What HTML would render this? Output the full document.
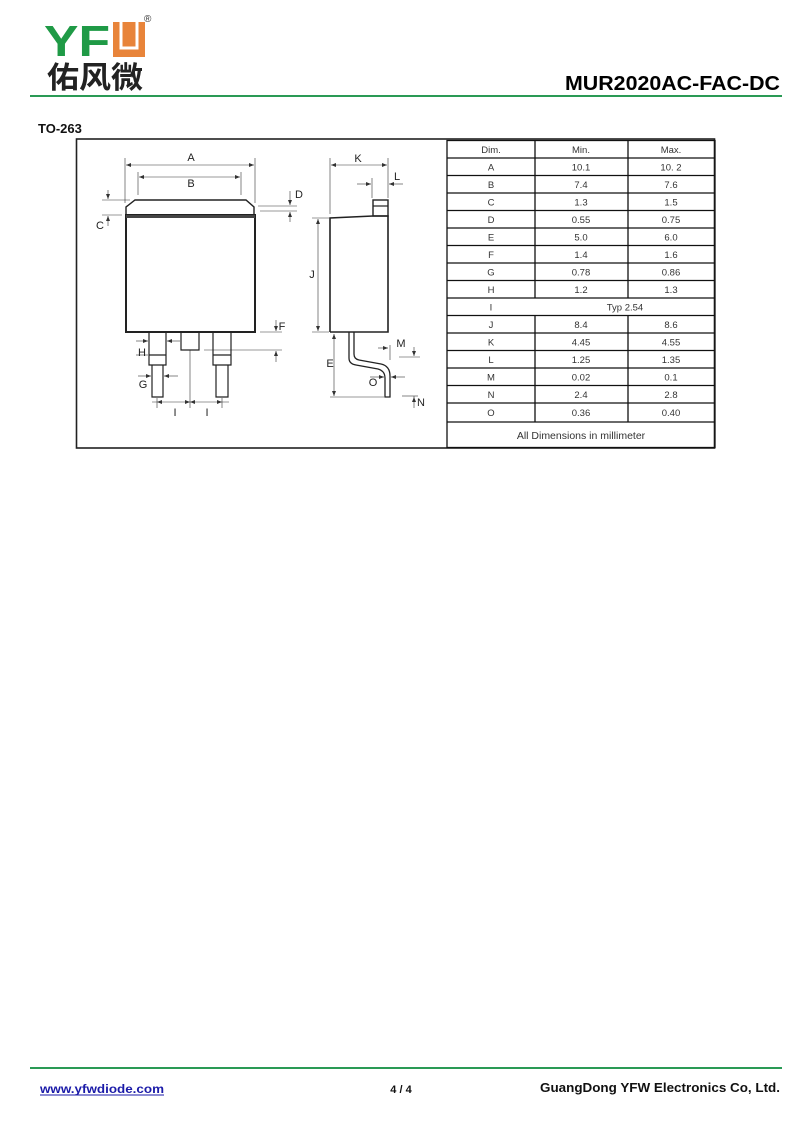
<!DOCTYPE html>
<html><head><meta charset="utf-8"><style>
html,body{margin:0;padding:0;background:#fff;}
body{width:800px;height:1130px;position:relative;overflow:hidden;}
svg{position:absolute;left:0;top:0;}
</style></head><body>
<svg width="800" height="1130" viewBox="0 0 800 1130" xmlns="http://www.w3.org/2000/svg" font-family="Liberation Sans, Arial, sans-serif">
<!-- logo -->
<text x="44" y="56" font-size="44" font-weight="bold" fill="#1f9a46" textLength="66" lengthAdjust="spacingAndGlyphs">YF</text>
<rect x="113" y="22" width="32" height="35" fill="#e8843a"/>
<path d="M121 20 V48 H137 V20" stroke="#fff" stroke-width="3" fill="none"/>
<text x="144" y="22" font-size="10" fill="#333">®</text>
<text x="47" y="88" font-size="30" font-weight="bold" fill="#222" font-family="Noto Sans CJK SC, WenQuanYi Zen Hei, sans-serif" textLength="96" lengthAdjust="spacingAndGlyphs">佑风微</text>
<text x="780" y="90" font-size="20" font-weight="bold" fill="#000" text-anchor="end" textLength="215" lengthAdjust="spacingAndGlyphs">MUR2020AC-FAC-DC</text>
<rect x="30" y="95" width="752" height="2" fill="#2a9a55"/>
<text x="38" y="133" font-size="13" font-weight="bold" fill="#111">TO-263</text>

<!-- outer box -->
<rect x="76.5" y="139" width="638" height="309" fill="none" stroke="#222" stroke-width="1.6"/>

<g stroke="#333" fill="none" stroke-width="0.6">
<line x1="125" y1="158" x2="125" y2="203"/><line x1="255" y1="158" x2="255" y2="203"/>
<line x1="138" y1="172" x2="138" y2="195"/><line x1="241" y1="172" x2="241" y2="195"/>
<line x1="126" y1="165" x2="254" y2="165"/><line x1="139" y1="177" x2="240" y2="177"/>
<line x1="102" y1="200" x2="130" y2="200"/><line x1="102" y1="215" x2="122" y2="215"/>
<line x1="108" y1="190" x2="108" y2="199"/><line x1="108" y1="216" x2="108" y2="226"/>
<line x1="258" y1="206" x2="297" y2="206"/><line x1="260" y1="211" x2="297" y2="211"/>
<line x1="290" y1="191" x2="290" y2="205"/><line x1="290" y1="212" x2="290" y2="222"/>
<line x1="260" y1="332" x2="282" y2="332"/><line x1="204" y1="350" x2="282" y2="350"/>
<line x1="276" y1="320" x2="276" y2="331"/><line x1="276" y1="351" x2="276" y2="362"/>
<line x1="136" y1="341" x2="148" y2="341"/><line x1="167" y1="341" x2="180" y2="341"/>
<line x1="136" y1="355" x2="148" y2="355"/>
<line x1="138" y1="376" x2="151" y2="376"/><line x1="164" y1="376" x2="178" y2="376"/>
<line x1="190" y1="350" x2="190" y2="408"/>
<line x1="152" y1="402" x2="229" y2="402"/>
<line x1="157" y1="398" x2="157" y2="408"/><line x1="222" y1="398" x2="222" y2="408"/>
<line x1="330" y1="158" x2="330" y2="214"/><line x1="388" y1="158" x2="388" y2="198"/>
<line x1="331" y1="165" x2="387" y2="165"/>
<line x1="357" y1="184" x2="371" y2="184"/><line x1="389" y1="184" x2="403" y2="184"/>
<line x1="372" y1="178" x2="372" y2="198"/>
<line x1="312" y1="218" x2="329" y2="218"/><line x1="312" y1="332" x2="329" y2="332"/>
<line x1="318" y1="219" x2="318" y2="331"/>
<line x1="334" y1="334" x2="334" y2="396"/><line x1="330" y1="397" x2="384" y2="397"/>
<line x1="378" y1="348" x2="388" y2="348"/><line x1="390" y1="345" x2="390" y2="360"/>
<line x1="399" y1="357" x2="420" y2="357"/><line x1="414" y1="347" x2="414" y2="356"/>
<line x1="370" y1="377" x2="384" y2="377"/><line x1="391" y1="377" x2="405" y2="377"/>
<line x1="402" y1="396" x2="418" y2="396"/>
<line x1="414" y1="396" x2="414" y2="408"/>
</g>
<g fill="#333">
<path d="M126 165 l5 -2 v4z M254 165 l-5 -2 v4z M139 177 l5 -2 v4z M240 177 l-5 -2 v4z"/>
<path d="M331 165 l5 -2 v4z M387 165 l-5 -2 v4z M371 184 l-5 -2 v4z M389 184 l5 -2 v4z"/>
<path d="M318 219 l-2 5 h4z M318 331 l-2 -5 h4z M334 334 l-2 5 h4z M334 396 l-2 -5 h4z"/>
<path d="M108 199 l-2 -5 h4z M108 216 l-2 5 h4z M290 205 l-2 -5 h4z M290 212 l-2 5 h4z"/>
<path d="M276 331 l-2 -5 h4z M276 351 l-2 5 h4z M148 341 l-5 -2 v4z M167 341 l5 -2 v4z"/>
<path d="M151 376 l-5 -2 v4z M164 376 l5 -2 v4z M157 402 l5 -2 v4z M222 402 l-5 -2 v4z M190 402 l-5 -2 v4z M190 402 l5 -2 v4z"/>
<path d="M388 348 l-5 -2 v4z M384 377 l-5 -2 v4z M391 377 l5 -2 v4z M414 356 l-2 -5 h4z M414 397 l-2 5 h4z"/>
</g>
<g stroke="#222" fill="none">
<path d="M126 215 V207 L135 200 H246 L254 207 V215" stroke-width="1.4"/>
<rect x="126" y="215" width="129" height="117" stroke-width="2"/>
<line x1="126" y1="216.5" x2="255" y2="216.5" stroke-width="3" stroke="#444"/>
<path d="M149 332 V365 H166 V332 M149 355 H166 M152 365 V397 H163 V365" stroke-width="1.2"/>
<path d="M213 332 V365 H231 V332 M213 355 H231 M216 365 V397 H228 V365" stroke-width="1.2"/>
<path d="M181 332 V350 H199 V332" stroke-width="1.2"/>
<path d="M330 332 V218 L373 216 M373 216 H388 V332 H330" stroke-width="1.6"/>
<rect x="373" y="200" width="15" height="16" stroke-width="1.4"/>
<line x1="373" y1="206" x2="388" y2="206" stroke-width="1.2"/>
<path d="M349 332 V358 Q349 364 356 365 L378 369 Q385 371 385 378 V397 H390 V376 Q390 366 381 364 L359 360 Q354 359 354 354 V332" stroke-width="1.3"/>
</g>
<g font-size="11" fill="#222" text-anchor="middle">
<text x="191" y="161">A</text><text x="191" y="187">B</text>
<text x="100" y="229">C</text><text x="299" y="198">D</text>
<text x="282" y="330">F</text><text x="142" y="356">H</text><text x="143" y="388">G</text>
<text x="175" y="416">I</text><text x="207" y="416">I</text>
<text x="358" y="162">K</text><text x="397" y="180">L</text>
<text x="312" y="278">J</text><text x="330" y="367">E</text>
<text x="401" y="347">M</text><text x="373" y="386">O</text><text x="421" y="406">N</text>
</g>

<g stroke="#111" stroke-width="1.3" fill="none">
<rect x="447" y="140.5" width="268" height="307"/>
<line x1="535" y1="140.5" x2="535" y2="298"/><line x1="535" y1="315.5" x2="535" y2="422"/>
<line x1="628" y1="140.5" x2="628" y2="298"/><line x1="628" y1="315.5" x2="628" y2="422"/>
<line x1="447" y1="158" x2="715" y2="158"/><line x1="447" y1="175.5" x2="715" y2="175.5"/>
<line x1="447" y1="193" x2="715" y2="193"/><line x1="447" y1="210.5" x2="715" y2="210.5"/>
<line x1="447" y1="228" x2="715" y2="228"/><line x1="447" y1="245.5" x2="715" y2="245.5"/>
<line x1="447" y1="263" x2="715" y2="263"/><line x1="447" y1="280.5" x2="715" y2="280.5"/>
<line x1="447" y1="298" x2="715" y2="298"/><line x1="447" y1="315.5" x2="715" y2="315.5"/>
<line x1="447" y1="333" x2="715" y2="333"/><line x1="447" y1="350.5" x2="715" y2="350.5"/>
<line x1="447" y1="368" x2="715" y2="368"/><line x1="447" y1="385.5" x2="715" y2="385.5"/>
<line x1="447" y1="403" x2="715" y2="403"/><line x1="447" y1="422" x2="715" y2="422"/>
</g>
<g font-size="9.5" fill="#333" text-anchor="middle">
<text x="491" y="153">Dim.</text><text x="581" y="153">Min.</text><text x="671" y="153">Max.</text>
<text x="491" y="170.5">A</text><text x="581" y="170.5">10.1</text><text x="671" y="170.5">10. 2</text>
<text x="491" y="188">B</text><text x="581" y="188">7.4</text><text x="671" y="188">7.6</text>
<text x="491" y="205.5">C</text><text x="581" y="205.5">1.3</text><text x="671" y="205.5">1.5</text>
<text x="491" y="223">D</text><text x="581" y="223">0.55</text><text x="671" y="223">0.75</text>
<text x="491" y="240.5">E</text><text x="581" y="240.5">5.0</text><text x="671" y="240.5">6.0</text>
<text x="491" y="258">F</text><text x="581" y="258">1.4</text><text x="671" y="258">1.6</text>
<text x="491" y="275.5">G</text><text x="581" y="275.5">0.78</text><text x="671" y="275.5">0.86</text>
<text x="491" y="293">H</text><text x="581" y="293">1.2</text><text x="671" y="293">1.3</text>
<text x="491" y="310.5">I</text><text x="625" y="310.5">Typ 2.54</text>
<text x="491" y="328">J</text><text x="581" y="328">8.4</text><text x="671" y="328">8.6</text>
<text x="491" y="345.5">K</text><text x="581" y="345.5">4.45</text><text x="671" y="345.5">4.55</text>
<text x="491" y="363">L</text><text x="581" y="363">1.25</text><text x="671" y="363">1.35</text>
<text x="491" y="380.5">M</text><text x="581" y="380.5">0.02</text><text x="671" y="380.5">0.1</text>
<text x="491" y="398">N</text><text x="581" y="398">2.4</text><text x="671" y="398">2.8</text>
<text x="491" y="416">O</text><text x="581" y="416">0.36</text><text x="671" y="416">0.40</text>
<text x="581" y="439" font-size="10.5">All Dimensions in millimeter</text>
</g>

<rect x="30" y="1067" width="752" height="2" fill="#2a9a55"/>
<text x="40" y="1093" font-size="12" font-weight="bold" fill="#1a1aa8" textLength="124" lengthAdjust="spacingAndGlyphs">www.yfwdiode.com</text>
<line x1="40" y1="1095" x2="164" y2="1095" stroke="#1a1aa8" stroke-width="1"/>
<text x="401" y="1093" font-size="11" font-weight="bold" fill="#111" text-anchor="middle">4 / 4</text>
<text x="780" y="1092" font-size="12.5" font-weight="bold" fill="#111" text-anchor="end" textLength="240" lengthAdjust="spacingAndGlyphs">GuangDong YFW Electronics Co, Ltd.</text>
</svg>
</body></html>
